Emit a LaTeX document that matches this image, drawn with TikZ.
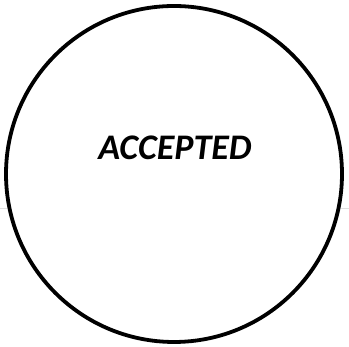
\documentclass[tikz,border=0pt]{standalone}
\usepackage{fontspec}
\setmainfont{Carlito}
\usetikzlibrary{positioning}

\begin{document}
\begin{tikzpicture}[x=1pt,y=1pt]

  \useasboundingbox (0,0) rectangle (349,347);

  %--- faint rule behind the state ---
  \draw[gray!25, line width=1pt] (0,138) -- (349,138);

  %--- accepting state ---
  \node[circle, draw=black, fill=white, line width=3.8pt,
        minimum size=336pt, inner sep=0pt] (accepted) at (174,173) {};
  \node[font=\fontsize{36}{43}\selectfont\bfseries\itshape]
        (acclabel) at (175,199) {ACCEPTED};

\end{tikzpicture}
\end{document}
